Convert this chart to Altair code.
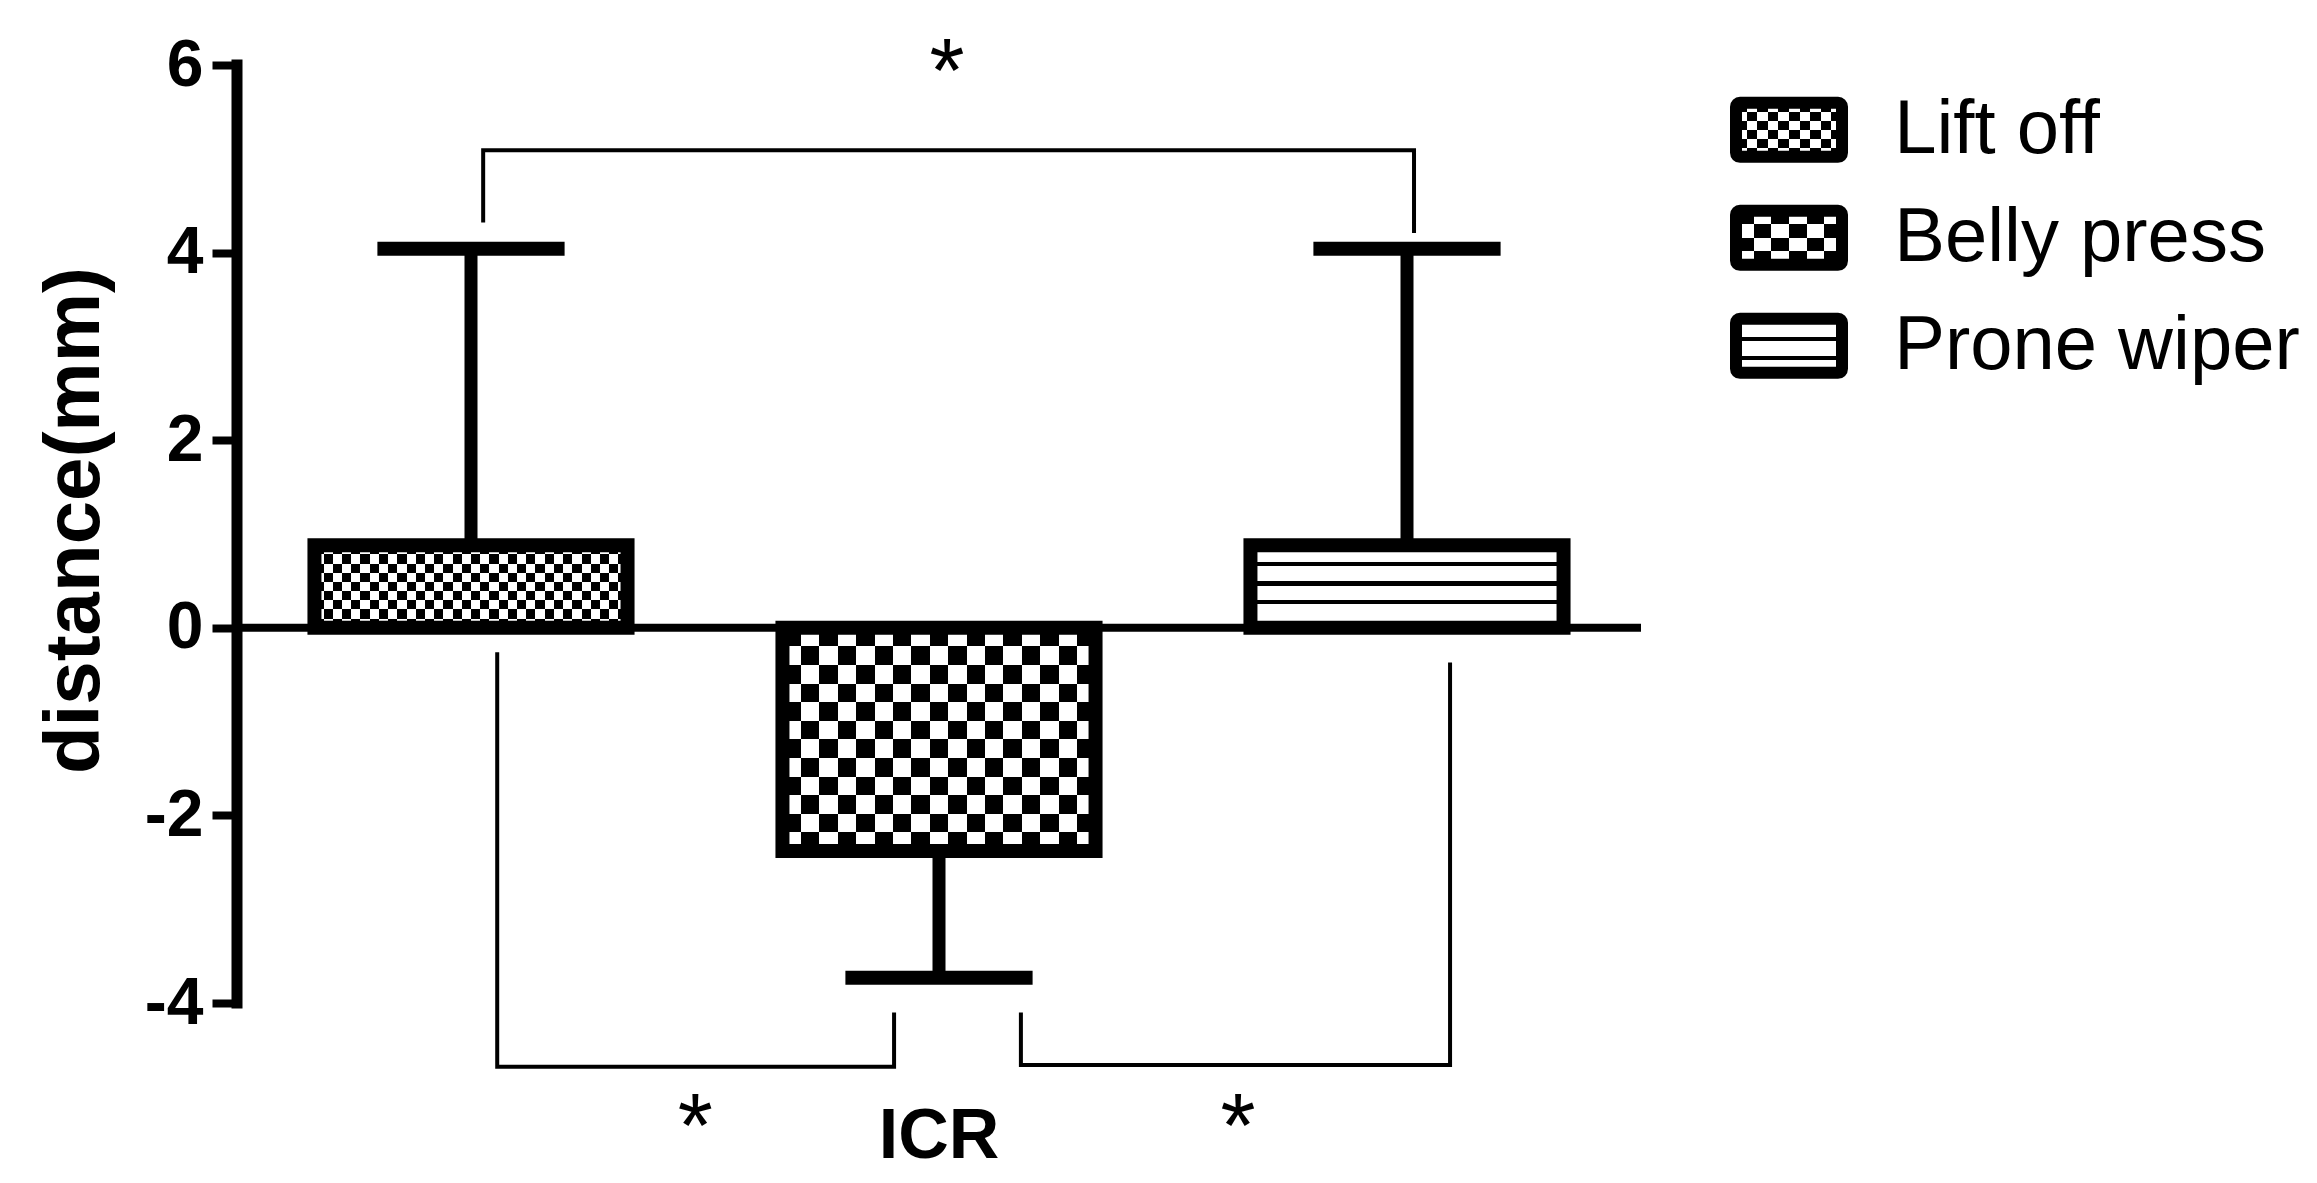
import altair as alt
import pandas as pd

# ---------------- data ----------------
categories = ["Lift off", "Belly press", "Prone wiper"]
cat_pos = [1, 2, 3]
means = [0.88, -2.38, 0.88]
err_ends = [4.04, -3.73, 4.04]
y_ticks = [-4, -2, 0, 2, 4, 6]
y_title = "distance(mm)"
group_label = "ICR"

# significance brackets (x in category units, y in mm)
bracket_id = ["top"] * 4 + ["left"] * 4 + ["right"] * 4
bracket_ord = [0, 1, 2, 3] * 3
bracket_x = [1.026, 1.026, 3.015, 3.015,
             1.056, 1.056, 1.904, 1.904,
             2.175, 2.175, 3.092, 3.092]
bracket_y = [4.32, 5.09, 5.09, 4.21,
             -0.26, -4.68, -4.68, -4.10,
             -4.10, -4.66, -4.66, -0.37]
star_text = ["*", "*", "*"]
star_x = [2.017, 1.479, 2.639]
star_y = [5.61, -5.64, -5.64]

# ---------------- layout / style ----------------
FONT = "Liberation Sans"
W, H = 2072, 1165
X_DOMAIN = [0.5, 0.5 + W / 468.0]
Y_TOP = 6 + 55 / 93.8
Y_DOMAIN = [Y_TOP - H / 93.8, Y_TOP]
BAR_HALF = 0.3345
CAP_HALF = 0.2
LEG_X0, LEG_X1 = 3.703, 3.9295
LEG_TEXT_X = 4.041
LEG_Y_TOP = 5.597
LEG_BOX_H = 0.576
LEG_STEP = 1.1514
LEG_TEXT_BASE = 5.064

patterns = {
    "Lift off": {"bar": ("checker", 34, 9), "legend": ("checker", 10, 6)},
    "Belly press": {"bar": ("checker", 17, 12), "legend": ("checker", 6, 4)},
    "Prone wiper": {"bar": ("lines", [(0.207, 0.256), (0.439, 0.488), (0.659, 0.707)]),
                    "legend": ("lines", [(0.333, 0.407), (0.685, 0.759)])},
}

xs = alt.Scale(domain=X_DOMAIN, nice=False, zero=False)
ys = alt.Scale(domain=Y_DOMAIN, nice=False, zero=False)

yaxis = alt.Axis(
    values=y_ticks, domain=False, grid=False, ticks=True,
    labelExpr="datum.value < 0 ? '-' + abs(datum.value) : '' + datum.value",
    tickSize=25, tickWidth=8, tickColor="black",
    labelFont=FONT, labelFontSize=66, labelFontWeight="bold", labelColor="black",
    labelPadding=9, labelOverlap=False, labelFlush=False,
    title=y_title, titleFont=FONT, titleFontSize=78, titleFontWeight="bold",
    titleColor="black", titleAngle=270, titleX=-139, titleY=510,
    titleAlign="center", titleBaseline="alphabetic",
)


def X(field):
    return alt.X(field, type="quantitative", scale=xs, axis=None)


def Y(field):
    return alt.Y(field, type="quantitative", scale=ys, axis=yaxis)


def stripe_stops(n):
    stops = []
    for k in range(n):
        c = "white" if k % 2 == 0 else "black"
        stops.append({"offset": k / n, "color": c})
        stops.append({"offset": (k + 1) / n, "color": c})
    return stops


def band_stops(bands):
    stops = [{"offset": 0, "color": "white"}]
    for a, b in bands:
        stops += [{"offset": a, "color": "white"}, {"offset": a, "color": "black"},
                  {"offset": b, "color": "black"}, {"offset": b, "color": "white"}]
    stops.append({"offset": 1, "color": "white"})
    return stops


def grad(stops, along):
    if along == "x":
        return {"gradient": "linear", "stops": stops, "x1": 0, "y1": 0, "x2": 1, "y2": 0}
    return {"gradient": "linear", "stops": stops, "x1": 0, "y1": 0, "x2": 0, "y2": 1}


def rect_enc():
    return dict(x=X("x0"), x2=alt.X2("x1"), y=Y("y0"), y2=alt.Y2("y1"))


def pattern_layers(df, pat, stroke_w, corner=0):
    out = []
    if pat[0] == "checker":
        ncol, nrow = pat[1], pat[2]
        out.append(alt.Chart(df).mark_rect(fill=grad(stripe_stops(nrow), "y")).encode(**rect_enc()))
        out.append(alt.Chart(df).mark_rect(fill=grad(stripe_stops(ncol), "x"),
                                           blend="difference").encode(**rect_enc()))
    else:
        out.append(alt.Chart(df).mark_rect(fill=grad(band_stops(pat[1]), "y")).encode(**rect_enc()))
    out.append(alt.Chart(df).mark_rect(fill="transparent", stroke="black", strokeWidth=stroke_w,
                                       cornerRadius=corner).encode(**rect_enc()))
    return out


bars = pd.DataFrame({"cat": categories, "x": cat_pos, "mean": means, "err": err_ends})
bars["x0"] = bars["x"] - BAR_HALF
bars["x1"] = bars["x"] + BAR_HALF
bars["y0"] = 0.0
bars["y1"] = bars["mean"]
bars["cx0"] = bars["x"] - CAP_HALF
bars["cx1"] = bars["x"] + CAP_HALF

layers = []

# axis line
axis_df = pd.DataFrame({"x": [X_DOMAIN[0]], "y0": [min(y_ticks)], "y1": [max(y_ticks)]})
layers.append(
    alt.Chart(axis_df).mark_rule(color="black", strokeWidth=11, strokeCap="square").encode(
        x=X("x"), y=Y("y0"), y2=alt.Y2("y1"),
    )
)

# error stems
layers.append(
    alt.Chart(bars).mark_rule(color="black", strokeWidth=13).encode(
        x=X("x"), y=Y("mean"), y2=alt.Y2("err"),
    )
)

# bars with patterns
for cat in categories:
    sub = bars[bars["cat"] == cat]
    layers += pattern_layers(sub, patterns[cat]["bar"], 14)

# error caps
layers.append(
    alt.Chart(bars).mark_rule(color="black", strokeWidth=14).encode(
        x=X("cx0"), x2=alt.X2("cx1"), y=Y("err"),
    )
)

# zero line
zero_df = pd.DataFrame({"x0": [X_DOMAIN[0]], "x1": [max(cat_pos) + 0.5], "y": [0.0]})
layers.append(
    alt.Chart(zero_df).mark_rule(color="black", strokeWidth=8).encode(
        x=X("x0"), x2=alt.X2("x1"), y=Y("y"),
    )
)

# brackets
br = pd.DataFrame({"id": bracket_id, "ord": bracket_ord, "x": bracket_x, "y": bracket_y})
layers.append(
    alt.Chart(br).mark_line(color="black", strokeWidth=4, strokeJoin="miter").encode(
        x=X("x"), y=Y("y"), detail="id:N", order="ord:Q",
    )
)

# stars
stars = pd.DataFrame({"t": star_text, "x": star_x, "y": star_y})
layers.append(
    alt.Chart(stars).mark_text(font=FONT, fontSize=90, color="black", align="center",
                               baseline="alphabetic").encode(
        x=X("x"), y=Y("y"), text="t:N",
    )
)

# group label
grp = pd.DataFrame({"t": [group_label], "x": [sum(cat_pos) / len(cat_pos)], "y": [-5.65]})
layers.append(
    alt.Chart(grp).mark_text(font=FONT, fontSize=70, fontWeight="bold", color="black",
                             align="center", baseline="alphabetic").encode(
        x=X("x"), y=Y("y"), text="t:N",
    )
)

# legend
leg_rows = []
for i, cat in enumerate(categories):
    top = LEG_Y_TOP - i * LEG_STEP
    leg_rows.append({"cat": cat, "x0": LEG_X0, "x1": LEG_X1, "y0": top - LEG_BOX_H, "y1": top,
                     "tx": LEG_TEXT_X, "ty": LEG_TEXT_BASE - i * LEG_STEP})
leg = pd.DataFrame(leg_rows)
for cat in categories:
    sub = leg[leg["cat"] == cat]
    layers += pattern_layers(sub, patterns[cat]["legend"], 12, corner=4)
layers.append(
    alt.Chart(leg).mark_text(font=FONT, fontSize=76, color="black", align="left",
                             baseline="alphabetic").encode(
        x=X("tx"), y=Y("ty"), text="cat:N",
    )
)

chart = (
    alt.layer(*layers)
    .properties(
        width=W,
        height=H,
        autosize=alt.AutoSizeParams(type="none"),
        padding={"left": 229, "top": 2, "right": 0, "bottom": 0},
        background="white",
    )
    .configure_view(stroke=None)
)

chart.save("out.html", embed_options={"renderer": "svg", "actions": False})
